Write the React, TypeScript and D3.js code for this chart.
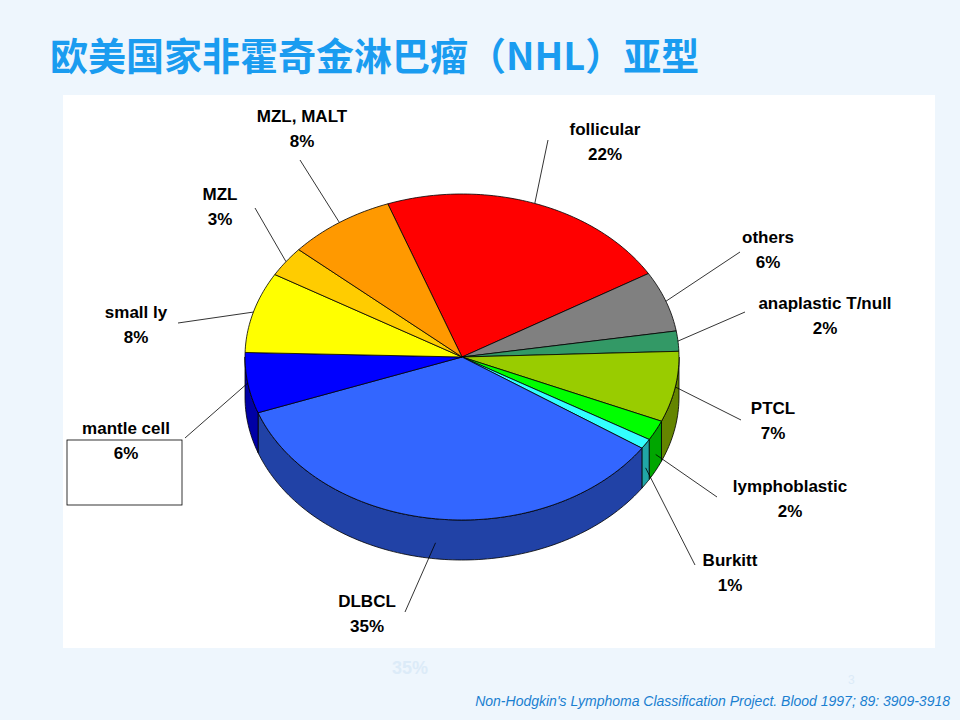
import React from 'react'
import * as d3 from 'd3'

const categories = ['follicular', 'others', 'anaplastic T/null', 'PTCL', 'lymphoblastic', 'Burkitt', 'DLBCL', 'mantle cell', 'small ly', 'MZL', 'MZL, MALT']
const values = [22, 6, 2, 7, 2, 1, 35, 6, 8, 3, 8]
const colors = ['#ff0000', '#808080', '#339966', '#99cc00', '#00ff00', '#33ffff', '#3366ff', '#0000ff', '#ffff00', '#ffcc00', '#ff9900']

// label anchors (layout only)
const labelPos: [number, number][] = [
	[605, 135], [768, 243], [825, 309], [773, 414], [790, 492], [730, 566],
	[367, 607], [126, 434], [136, 318], [220, 200], [302, 122]
]
const lineStart: [number, number][] = [
	[548, 140], [740, 252], [745, 312], [741, 420], [717, 497], [695, 565],
	[405, 612], [185, 438], [178, 323], [255, 208], [300, 160]
]

const W = 960
const H = 720
const cx = 462
const cy = 357
const rx = 217
const ry = 163
const depth = 40
const startAngle = -20 * Math.PI / 180

const pt = (a: number, dy = 0): [number, number] => [cx + rx * Math.sin(a), cy - ry * Math.cos(a) + dy]

const App = () => {
	const pie = d3.pie<number>().sort(null).startAngle(startAngle).endAngle(startAngle + 2 * Math.PI)
	const arcs = pie(values)
	const line = d3.line()

	const sample = (a0: number, a1: number, dy = 0) => {
		const n = Math.max(2, Math.ceil((a1 - a0) / 0.02))
		return d3.range(n + 1).map(i => pt(a0 + (a1 - a0) * i / n, dy))
	}

	const sides = arcs.map((a, i) => {
		const lo = Math.max(a.startAngle, Math.PI / 2)
		const hi = Math.min(a.endAngle, 1.5 * Math.PI)
		if (hi <= lo) return null
		const top = sample(lo, hi)
		const bottom = sample(lo, hi, depth).reverse()
		const c = d3.color(colors[i])!.darker(1.2).formatHex()
		return <path key={'s' + i} d={line([...top, ...bottom])! + 'Z'} fill={c} stroke="#000" strokeWidth={0.8} />
	})

	const tops = arcs.map((a, i) => (
		<path key={'t' + i} d={line([[cx, cy], ...sample(a.startAngle, a.endAngle)])! + 'Z'} fill={colors[i]} stroke="#000" strokeWidth={0.8} />
	))

	const labels = arcs.map((a, i) => {
		const mid = (a.startAngle + a.endAngle) / 2
		const front = Math.cos(mid) < -0.3
		const end = pt(mid, front ? depth * 0.6 : 0)
		const [lx, ly] = labelPos[i]
		return (
			<g key={'l' + i}>
				<line x1={lineStart[i][0]} y1={lineStart[i][1]} x2={end[0]} y2={end[1]} stroke="#000" strokeWidth={0.8} />
				<text x={lx} y={ly} textAnchor="middle" fontSize={17} fontWeight="bold" fontFamily="Liberation Sans, Arial, sans-serif">{categories[i]}</text>
				<text x={lx} y={ly + 25} textAnchor="middle" fontSize={17} fontWeight="bold" fontFamily="Liberation Sans, Arial, sans-serif">{values[i]}%</text>
			</g>
		)
	})

	return (
		<svg width={W} height={H} style={{ position: 'absolute', left: 0, top: 0, display: 'block' }}>
			<rect width={W} height={H} fill="#eef6fd" />
			<text x={50} y={70} fontSize={38} fontWeight="bold" fill="#1a9cf0" fontFamily="Noto Sans CJK SC, sans-serif">欧美国家非霍奇金淋巴瘤（NHL）亚型</text>
			<rect x={63} y={95} width={872} height={553} fill="#fff" />
			<rect x={67} y={440} width={115} height={65} fill="#fff" stroke="#000" strokeWidth={0.8} />
			{sides}
			{tops}
			{labels}
			<text x={410} y={674} textAnchor="middle" fontSize={18} fontWeight="bold" fill="#dcebf8" fontFamily="Liberation Sans, Arial, sans-serif">35%</text>
			<text x={848} y={684} fontSize={12} fill="#dcebf8" fontFamily="Liberation Sans, Arial, sans-serif">3</text>
			<text x={950} y={706} textAnchor="end" fontSize={14} fontStyle="italic" fill="#1a7fd0" fontFamily="Liberation Sans, Arial, sans-serif">Non-Hodgkin's Lymphoma Classification Project. Blood 1997; 89: 3909-3918</text>
		</svg>
	)
}

export default App
